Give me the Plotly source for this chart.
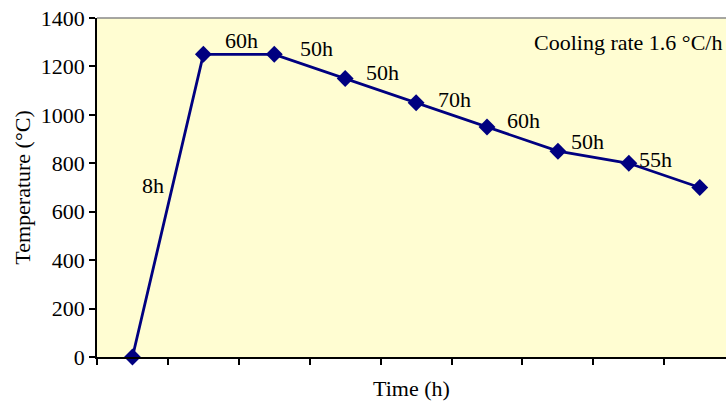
import plotly.graph_objects as go

# Data
steps = [0, 1, 2, 3, 4, 5, 6, 7, 8]
temperature = [0, 1250, 1250, 1150, 1050, 950, 850, 800, 700]
durations = ["8h", "60h", "50h", "50h", "70h", "60h", "50h", "55h"]
label_x = [0.29, 1.54, 2.6, 3.53, 4.54, 5.51, 6.41, 7.37]
label_y = [710, 1309, 1272, 1177, 1065, 975, 892, 814]
note = "Cooling rate 1.6 °C/h"
y_ticks = [0, 200, 400, 600, 800, 1000, 1200, 1400]

font_family = "Liberation Serif"
navy = "#000080"
fs = 22

fig = go.Figure()
fig.add_trace(go.Scatter(
    x=steps, y=temperature, mode="lines+markers",
    line=dict(color=navy, width=2.8),
    marker=dict(symbol="diamond", size=13, color=navy),
    showlegend=False, cliponaxis=False,
))

annotations = [
    dict(x=x, y=y, text=t, showarrow=False, xref="x", yref="y",
         font=dict(family=font_family, size=fs, color="black"))
    for x, y, t in zip(label_x, label_y, durations)
]
annotations.append(dict(x=0.997, y=1300, xref="paper", yref="y", text=note,
                        showarrow=False, xanchor="right",
                        font=dict(family=font_family, size=fs, color="black")))

fig.update_layout(
    width=726, height=405,
    margin=dict(l=97, r=0, t=18, b=48),
    paper_bgcolor="white",
    plot_bgcolor="#FFFDD2",
    font=dict(family=font_family, size=fs, color="black"),
    annotations=annotations,
    shapes=[dict(type="line", xref="paper", yref="paper", x0=0, x1=1, y0=1, y1=1,
                 line=dict(color="#888888", width=1.5))],
)
fig.update_xaxes(
    range=[-0.5, 8.37], showgrid=False, zeroline=False,
    showline=True, linecolor="black", linewidth=1.5,
    tickmode="array", tickvals=[i - 0.5 for i in range(9)], ticktext=[""] * 9,
    ticks="outside", ticklen=6, tickcolor="black", tickwidth=1.5,
    title=dict(text="Time (h)", font=dict(size=fs), standoff=12),
)
fig.update_yaxes(
    range=[0, 1400], showgrid=False, zeroline=False,
    showline=True, linecolor="black", linewidth=1.5,
    tickmode="array", tickvals=y_ticks,
    ticks="outside", ticklen=6, tickcolor="black", tickwidth=1.5,
    tickfont=dict(size=fs),
    title=dict(text="Temperature (°C)", font=dict(size=fs), standoff=4),
)

fig.write_html("out.html")
